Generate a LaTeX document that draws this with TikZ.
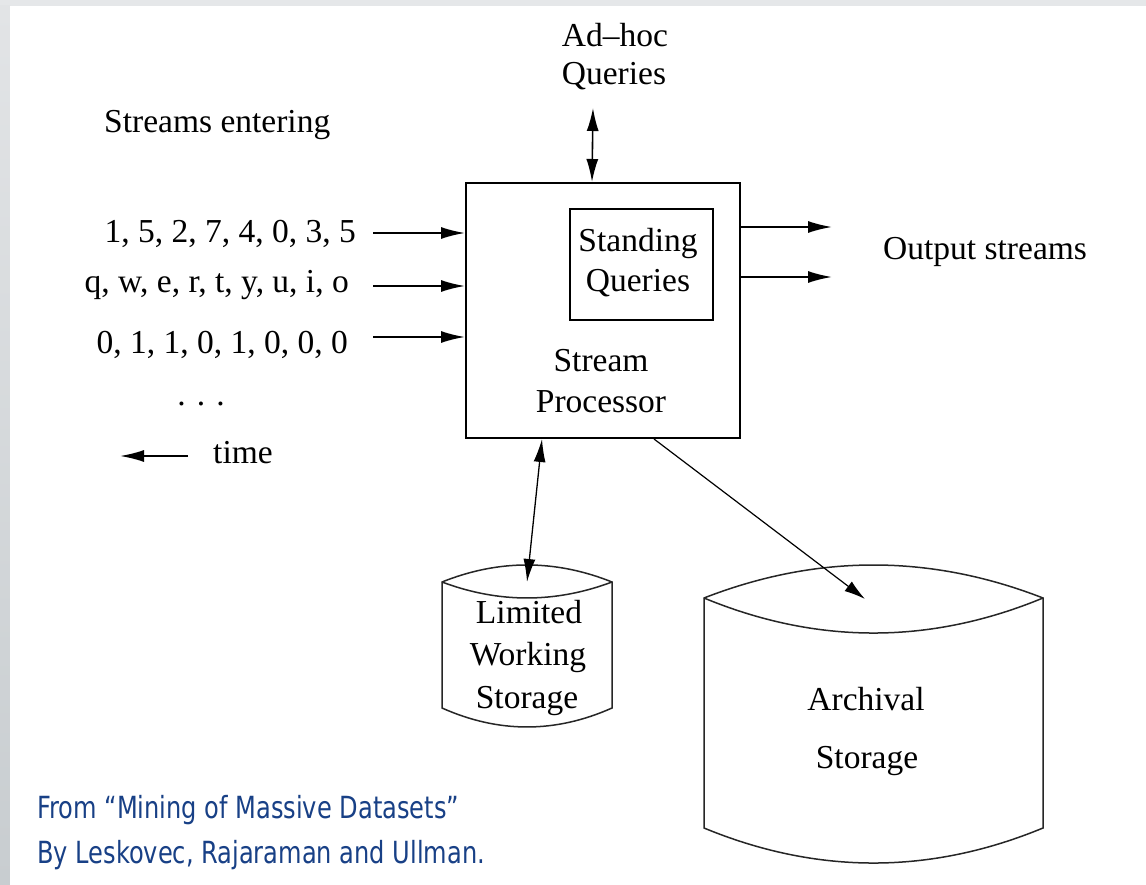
\documentclass[tikz,border=0pt]{standalone}
\usepackage{fontspec}
\setmainfont{Liberation Serif}
\newfontfamily\footfont[FakeStretch=0.79]{DejaVu Sans}
\usetikzlibrary{arrows.meta,calc}
\definecolor{bggray}{RGB}{229,231,233}
\definecolor{stripA}{RGB}{226,228,230}
\definecolor{stripB}{RGB}{200,205,208}
\definecolor{footblue}{RGB}{24,64,134}
\begin{document}
\begin{tikzpicture}[x=1pt,y=-1pt,
  every node/.style={inner sep=0pt},
  lbl/.style={font=\fontsize{33.5}{40}\selectfont},
  foot/.style={font=\footfont\fontsize{30.5}{36}\selectfont, text=footblue},
  box/.style={draw, line width=2pt},
  arr/.style={line width=1.8pt, -{Latex[length=24pt,width=12pt]}},
  tharr/.style={line width=1.2pt, -{Latex[length=21pt,width=12pt]}},
  dbl/.style={line width=1.6pt, {Latex[length=23pt,width=12pt]}-{Latex[length=23pt,width=12pt]}},
  cyl/.style={line width=1.5pt, draw=black!85}]
% background
\fill[bggray] (0,0) rectangle (1146,885);
\shade[top color=stripA, bottom color=stripB] (0,6) rectangle (10,885);
\fill[white] (10,6) rectangle (1146,885);
\useasboundingbox (0,0) rectangle (1146,885);

% stream processor
\node[box, minimum width=274pt, minimum height=255pt] (sp) at (603,310.5) {};
\node[box, minimum width=143pt, minimum height=111pt] (sq) at (641.5,264.5) {};
\node[lbl, anchor=base] (sq1) at (638,252) {Standing};
\node[lbl, anchor=base] (sq2) at (638,292) {Queries};
\node[lbl, anchor=base] (sp1) at (601,371) {Stream};
\node[lbl, anchor=base] (sp2) at (601,412) {Processor};

% ad-hoc
\node[lbl, anchor=base] (ah1) at (615,47) {Ad–hoc};
\node[lbl, anchor=base] (ah2) at (614,85) {Queries};
\coordinate (ahtip) at (593,108);
\draw[dbl] (ahtip) -- ($(sp.north west)+(127,0)$);

% inputs
\node[lbl, anchor=base west] (se) at (104,133) {Streams entering};
\node[lbl, anchor=base east] (in1) at (356,243) {1, 5, 2, 7, 4, 0, 3, 5};
\node[lbl, anchor=base east] (in2) at (349,293) {q, w, e, r, t, y, u, i, o};
\node[lbl, anchor=base east] (in3) at (348,353) {0, 1, 1, 0, 1, 0, 0, 0};
\node[lbl, anchor=base] (dots) at (201,405) {.\,\,.\,\,.};
\coordinate (a1) at (373,233);
\coordinate (a2) at (373,286);
\coordinate (a3) at (373,337);
\draw[arr] (a1) -- (a1 -| sp.west);
\draw[arr] (a2) -- (a2 -| sp.west);
\draw[arr] (a3) -- (a3 -| sp.west);

% time
\coordinate (t0) at (188,456);
\coordinate (t1) at (120,456);
\draw[arr] (t0) -- (t1);
\node[lbl, anchor=base west] (time) at (213,463) {time};

% outputs
\coordinate (o1) at (832,227);
\coordinate (o2) at (832,277);
\draw[arr] (o1 -| sp.east) -- (o1);
\draw[arr] (o2 -| sp.east) -- (o2);
\node[lbl, anchor=base west] (out) at (883,260) {Output streams};

% limited working storage
\draw[cyl, fill=white] (442,582) .. controls (498.7,559.3) and (555.3,559.3) .. (612,582)
  -- (612,708) .. controls (555.3,733.3) and (498.7,733.3) .. (442,708) -- cycle;
\draw[cyl] (442,582) .. controls (498.7,603.3) and (555.3,603.3) .. (612,582);
\node[lbl, anchor=base] (lw1) at (529,623) {Limited};
\node[lbl, anchor=base] (lw2) at (528,665) {Working};
\node[lbl, anchor=base] (lw3) at (527,708) {Storage};
\coordinate (lwtop) at (527,582);
\draw[dbl, line width=1.3pt] ($(sp.south west)+(77,0)$) -- (lwtop);

% archival storage
\draw[cyl, fill=white] (704,598) .. controls (817,554) and (930,554) .. (1043,598)
  -- (1043,828) .. controls (930,874.7) and (817,874.7) .. (704,828) -- cycle;
\draw[cyl] (704,598) .. controls (817,644.7) and (930,644.7) .. (1043,598);
\node[lbl, anchor=base] (ar1) at (866,710) {Archival};
\node[lbl, anchor=base] (ar2) at (867,768) {Storage};
\coordinate (artop) at (865,599);
\draw[tharr] ($(sp.south west)+(189,0)$) -- (artop);

% footer
\node[foot, anchor=base west] (ref1) at (37,818) {From “Mining of Massive Datasets”};
\node[foot, anchor=base west] (ref2) at (37,863) {By Leskovec, Rajaraman and Ullman.};
\end{tikzpicture}
\end{document}
